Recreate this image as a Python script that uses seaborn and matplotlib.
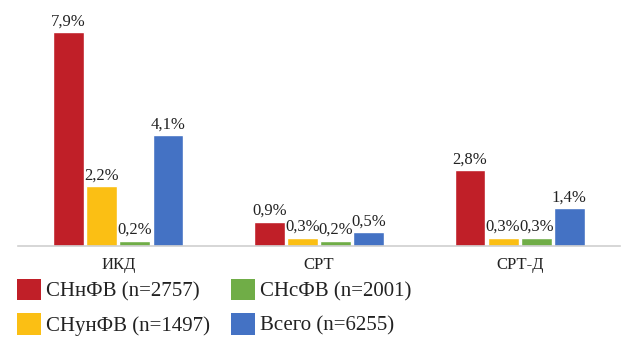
import matplotlib
matplotlib.use("Agg")
import matplotlib.pyplot as plt
import seaborn as sns
import pandas as pd
from matplotlib.patches import Patch

categories = ["ИКД", "СРТ", "СРТ-Д"]
series = ["СНнФВ (n=2757)", "СНунФВ (n=1497)", "СНсФВ (n=2001)", "Всего (n=6255)"]
colors = ["#C01F28", "#FBBF14", "#70AD47", "#4472C4"]
vals_hfref = [7.9, 0.9, 2.8]
vals_hfmref = [2.2, 0.3, 0.3]
vals_hfpef = [0.2, 0.2, 0.3]
vals_total = [4.1, 0.5, 1.4]

all_vals = [vals_hfref, vals_hfmref, vals_hfpef, vals_total]
rows = []
for s, vals in zip(series, all_vals):
    for c, v in zip(categories, vals):
        rows.append({"cat": c, "series": s, "val": v})
df = pd.DataFrame(rows)

sns.set_style("white")
plt.rcParams["font.family"] = ["Liberation Serif", "DejaVu Serif"]

fig = plt.figure(figsize=(6.31, 3.48), dpi=100)
ax = fig.add_axes([18/631, 1-246/348, 602/631, 241/348])

sns.barplot(data=df, x="cat", y="val", hue="series", hue_order=series,
            order=categories, palette=colors, width=0.66, gap=0.07,
            saturation=1, ax=ax, legend=False)

for cont, vals in zip(ax.containers, all_vals):
    labels = [f"{v:.1f}%".replace(".", ",") for v in vals]
    ax.bar_label(cont, labels=labels, padding=2, fontsize=12, color="#222222")

ax.set_xlim(-0.5, 2.5)
ax.set_ylim(0, 8.9)
ax.set_xlabel("")
ax.set_ylabel("")
ax.set_yticks([])
ax.tick_params(axis="x", length=0, pad=8, labelsize=12, labelcolor="#222222")
for side in ["top", "right", "left"]:
    ax.spines[side].set_visible(False)
ax.spines["bottom"].set_color("#d0d0d0")
ax.spines["bottom"].set_linewidth(1.2)

handles = [Patch(facecolor=c, edgecolor="none") for c in colors]
fig.legend(handles, series, loc="upper left", bbox_to_anchor=(17/631, 1-279/348),
           ncol=2, frameon=False, fontsize=15, handlelength=1.15, handleheight=1.2,
           handletextpad=0.25, columnspacing=1.0, labelspacing=0.55, borderpad=0,
           borderaxespad=0, labelcolor="#222222")

fig.savefig("out.png", dpi=100)
